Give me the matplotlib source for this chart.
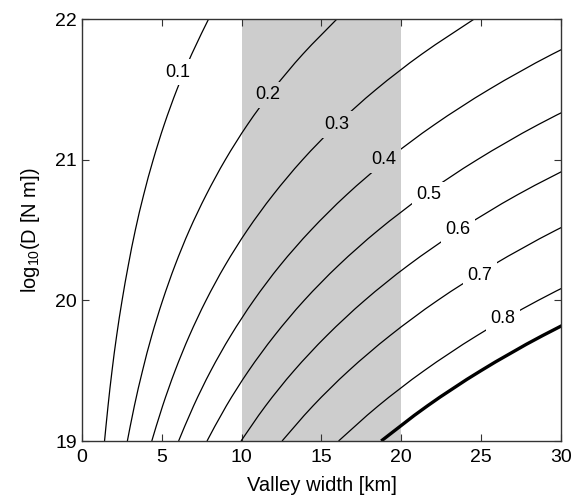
import matplotlib
matplotlib.use('Agg')
import matplotlib.pyplot as plt
from matplotlib.path import Path
from matplotlib.patches import PathPatch

plt.rcParams['font.family'] = ['Liberation Sans', 'DejaVu Sans']
plt.rcParams['mathtext.fontset'] = 'custom'
plt.rcParams['mathtext.rm'] = 'Liberation Sans'
plt.rcParams['mathtext.it'] = 'Liberation Sans'

# log10(D) levels at which the curves were read
log_d = [19.0, 19.25, 19.5, 19.75, 20.0, 20.25, 20.5, 20.75, 21.0, 21.25, 21.5, 21.75, 22.0]

# valley width [km] of each contour at those levels (points past 30 km get clipped)
w_01 = [1.41, 1.63, 1.88, 2.17, 2.51, 2.90, 3.34, 3.86, 4.46, 5.15, 5.95, 6.87, 7.93]
w_02 = [2.84, 3.28, 3.79, 4.37, 5.05, 5.83, 6.73, 7.78, 8.98, 10.37, 11.98, 13.83, 15.97]
w_03 = [4.37, 5.05, 5.83, 6.73, 7.77, 8.97, 10.36, 11.97, 13.82, 15.96, 18.43, 21.28, 24.57]
w_04 = [6.05, 6.99, 8.07, 9.32, 10.76, 12.42, 14.35, 16.57, 19.13, 22.09, 25.51, 29.46, 34.02]
w_05 = [7.83, 9.04, 10.44, 12.06, 13.92, 16.08, 18.57, 21.44, 24.76, 28.59, 33.02]
w_06 = [9.96, 11.50, 13.28, 15.34, 17.71, 20.45, 23.62, 27.27, 31.50]
w_07 = [12.53, 14.47, 16.71, 19.30, 22.28, 25.73, 29.71, 34.31]
w_08 = [16.07, 18.56, 21.43, 24.75, 28.58, 33.00]
w_thick = [18.74, 21.64, 24.99, 28.86, 33.32]

thin_curves = [w_01, w_02, w_03, w_04, w_05, w_06, w_07, w_08]

# contour labels and where they sit
label_text = ['0.1', '0.2', '0.3', '0.4', '0.5', '0.6', '0.7', '0.8']
label_w = [6.0, 11.65, 15.97, 18.9, 21.73, 23.54, 24.92, 26.36]
label_d = [21.62, 21.46, 21.25, 21.0, 20.75, 20.5, 20.18, 19.87]

shade_range = (10, 20)
shade_col = '#cdcdcd'


def smooth_curve(ax, xs, ys, lw):
    # catmull-rom through the read points, drawn as bezier segments
    pts = list(zip(xs, ys))
    verts = [pts[0]]
    codes = [Path.MOVETO]
    n = len(pts)
    for i in range(n - 1):
        p0 = pts[max(i - 1, 0)]
        p1 = pts[i]
        p2 = pts[i + 1]
        p3 = pts[min(i + 2, n - 1)]
        c1 = (p1[0] + (p2[0] - p0[0]) / 6, p1[1] + (p2[1] - p0[1]) / 6)
        c2 = (p2[0] - (p3[0] - p1[0]) / 6, p2[1] - (p3[1] - p1[1]) / 6)
        verts += [c1, c2, p2]
        codes += [Path.CURVE4] * 3
    ax.add_patch(PathPatch(Path(verts, codes), fill=False, ec='black', lw=lw,
                           capstyle='butt', zorder=2))


fig = plt.figure(figsize=(5.88, 5.0), dpi=100)
ax = fig.add_axes([0.1395, 0.118, 0.8145, 0.844])

ax.axvspan(shade_range[0], shade_range[1], color=shade_col, lw=0, zorder=0)

for w in thin_curves:
    smooth_curve(ax, w, log_d[:len(w)], 0.9)
smooth_curve(ax, w_thick, log_d[:len(w_thick)], 2.4)

for t, x, y in zip(label_text, label_w, label_d):
    bg = shade_col if shade_range[0] <= x <= shade_range[1] else 'white'
    ax.text(x, y, t, ha='center', va='center', fontsize=13, zorder=3,
            bbox=dict(boxstyle='square,pad=0.25', fc=bg, ec='none'))

ax.set_xlim(0, 30)
ax.set_ylim(19, 22)
ax.set_xticks(range(0, 31, 5))
ax.set_yticks([19, 20, 21, 22])
ax.tick_params(direction='in', top=True, right=True, length=5, width=0.8,
               labelsize=14, color='#333333')
ax.tick_params(axis='x', pad=6)
for s in ax.spines.values():
    s.set_linewidth(1.0)
    s.set_color('#333333')
    s.set_zorder(5)

ax.set_xlabel('Valley width [km]', fontsize=14.5, labelpad=7)
ax.set_ylabel('log$_{10}$(D [N m])', fontsize=14.5, labelpad=10)

fig.savefig('out.png', dpi=100)
